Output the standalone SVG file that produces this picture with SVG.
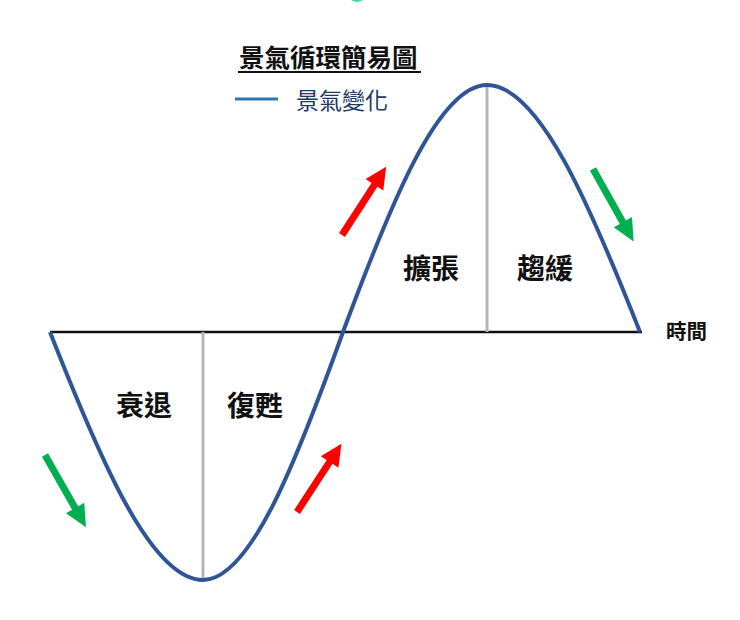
<svg xmlns="http://www.w3.org/2000/svg" width="740" height="620" viewBox="0 0 740 620">
<style>
.t{font-family:"Liberation Sans","Noto Sans CJK TC",sans-serif;font-weight:bold;fill:#111}
.g{fill:#00B050}
.r{fill:#FF0000}
</style>
<defs>
<path id="arr" d="M0,-3.5 L61,-3.5 L61,-10.5 L83,0 L61,10.5 L61,3.5 L0,3.5 Z"/>
</defs>
<rect width="740" height="620" fill="#fff"/>
<ellipse cx="357" cy="-3" rx="7" ry="5" fill="#3ddc97"/>
<g id="title">
<text class="t" x="239" y="67" font-size="25.5">景氣循環簡易圖</text>
<line x1="238" y1="72" x2="421" y2="72" stroke="#111" stroke-width="2"/>
</g>
<g id="legend">
<line x1="235" y1="99" x2="278" y2="99" stroke="#2E75B6" stroke-width="3"/>
<text x="296" y="109" font-size="23" font-family="Liberation Sans,'Noto Sans CJK TC',sans-serif" fill="#203864">景氣變化</text>
</g>
<g id="axis">
<line x1="50" y1="332" x2="642" y2="332" stroke="#111" stroke-width="2.5"/>
<text class="t" x="666" y="339" font-size="20.5">時間</text>
</g>
<g id="connectors">
<line x1="203" y1="332" x2="203" y2="580" stroke="#b4b4b4" stroke-width="3"/>
<line x1="487" y1="85" x2="487" y2="332" stroke="#b4b4b4" stroke-width="3"/>
<path d="M50,332 C99.8,458.9 151,580 203,580 C250.6,580 297.4,458.9 343,332 C389.9,205.6 438.1,85 487,85 C539,85 590.2,205.6 640,332" fill="none" stroke="#2F5597" stroke-width="4"/>
</g>
<g id="arrows">
<use href="#arr" class="g" transform="translate(45,455) rotate(60.4)"/>
<use href="#arr" class="r" transform="translate(297,512) rotate(-56.9) scale(0.98,1)"/>
<use href="#arr" class="r" transform="translate(342,235) rotate(-57.1) scale(0.98,1)"/>
<use href="#arr" class="g" transform="translate(593,169) rotate(60.7)"/>
</g>
<g id="labels">
<text class="t" x="116" y="416" font-size="28">衰退</text>
<text class="t" x="227" y="416" font-size="28">復甦</text>
<text class="t" x="403" y="279" font-size="28">擴張</text>
<text class="t" x="517" y="279" font-size="28">趨緩</text>
</g>
</svg>
